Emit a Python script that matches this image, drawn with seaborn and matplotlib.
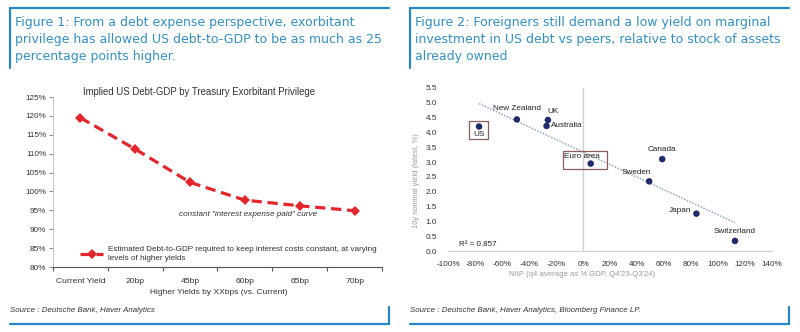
import matplotlib
matplotlib.use("Agg")
import matplotlib.pyplot as plt
import seaborn as sns
import numpy as np
import pandas as pd
from matplotlib.lines import Line2D
from matplotlib.patches import Rectangle
from matplotlib.ticker import PercentFormatter, FixedLocator, MultipleLocator, FormatStrFormatter

# ---------------- data ----------------
scenarios = ["Current Yield", "20bp", "45bp", "60bp", "65bp", "70bp"]
debt_to_gdp = [119.5, 111.2, 102.4, 97.7, 96.2, 94.9]

countries = ["US", "New Zealand", "UK", "Australia", "Euro area",
             "Canada", "Sweden", "Japan", "Switzerland"]
niip = [-77, -49, -26, -27, 5.7, 58.7, 49, 84, 112.6]
yield_10y = [4.20, 4.44, 4.42, 4.22, 2.95, 3.10, 2.35, 1.26, 0.34]
r2_text = "R² = 0.857"

title1 = ("Figure 1: From a debt expense perspective, exorbitant\n"
          "privilege has allowed US debt-to-GDP to be as much as 25\n"
          "percentage points higher.")
title2 = ("Figure 2: Foreigners still demand a low yield on marginal\n"
          "investment in US debt vs peers, relative to stock of assets\n"
          "already owned")
source1 = "Source : Deutsche Bank, Haver Analytics"
source2 = "Source : Deutsche Bank, Haver Analytics, Bloomberg Finance LP."

# ---------------- style ----------------
sns.set_theme(style="white")
plt.rcParams["font.family"] = ["Liberation Sans", "DejaVu Sans"]
plt.rcParams["axes.unicode_minus"] = False

W, H = 800, 332
fig = plt.figure(figsize=(W / 100, H / 100), dpi=100)
fig.patch.set_facecolor("white")

def fx(px):
    return px / W

def fy(py):
    return 1 - py / H

blue = "#2489c4"
title_col = "#3390c3"
red = "#e3262b"
navy = "#1f2a6b"
txt = "#333333"
grey = "#9a9a9a"
TITLE_FONT = ["DejaVu Sans"]
FS = 5.9

# frames
def frame(x0, x1):
    kw = dict(color=blue, lw=1.6, transform=fig.transFigure)
    fig.add_artist(Line2D([fx(x0), fx(x1)], [fy(8), fy(8)], **kw))
    fig.add_artist(Line2D([fx(x0), fx(x0)], [fy(8), fy(68)], **kw))
    fig.add_artist(Line2D([fx(x0), fx(x1)], [fy(324), fy(324)], **kw))
    fig.add_artist(Line2D([fx(x1), fx(x1)], [fy(307), fy(324)], **kw))

frame(10, 389)
frame(410, 789)

fig.text(fx(15), fy(16), title1, color=title_col, fontsize=9.0, va="top",
         ha="left", linespacing=1.38, family=TITLE_FONT)
fig.text(fx(415), fy(16), title2, color=title_col, fontsize=9.0, va="top",
         ha="left", linespacing=1.38, family=TITLE_FONT)
fig.text(fx(10), fy(311), source1, color=txt, fontsize=5.7, style="italic",
         va="center", ha="left")
fig.text(fx(410), fy(311), source2, color=txt, fontsize=5.7, style="italic",
         va="center", ha="left")

# ---------------- left chart ----------------
axL = fig.add_axes([fx(53), fy(267), fx(382) - fx(53), fy(97) - fy(267)])
df1 = pd.DataFrame({"scenario": scenarios, "debt": debt_to_gdp})
sns.lineplot(data=df1, x="scenario", y="debt", ax=axL, color=red, lw=2.3,
             marker="D", markersize=5, markeredgewidth=0, sort=False,
             label="Estimated Debt-to-GDP required to keep interest costs constant, at varying\nlevels of higher yields")
for ln in axL.lines:
    ln.set_linestyle((0, (3.2, 1.8)))
axL.set_xlim(-0.5, len(scenarios) - 0.5)
axL.set_ylim(80, 125)
axL.yaxis.set_major_locator(MultipleLocator(5))
axL.yaxis.set_major_formatter(PercentFormatter(decimals=0))
axL.set_xticks(range(len(scenarios)))
axL.set_xticklabels(scenarios)
axL.xaxis.set_minor_locator(FixedLocator(np.arange(-0.5, len(scenarios), 1.0)))
axL.tick_params(axis="x", which="major", length=0, pad=8, labelsize=6.1, colors=txt)
axL.tick_params(axis="x", which="minor", length=3, width=0.8, color="#555555",
                direction="out", bottom=True)
axL.tick_params(axis="y", which="major", length=3, width=0.6, color="#777777",
                left=True, labelsize=FS, colors=txt, pad=2)
for s in ["top", "right"]:
    axL.spines[s].set_visible(False)
axL.spines["bottom"].set_color("#555555")
axL.spines["bottom"].set_linewidth(0.8)
axL.spines["left"].set_color("#bbbbbb")
axL.spines["left"].set_linewidth(0.6)
axL.set_xlabel("")
axL.set_ylabel("")
leg = axL.legend(loc="upper left", bbox_to_anchor=(0.06, 0.165), frameon=False,
                 fontsize=5.9, handlelength=2.8, handletextpad=0.6,
                 labelcolor=txt, labelspacing=0.2)
for t in leg.get_texts():
    t.set_linespacing(1.35)
fig.text(fx(199), fy(92), "Implied US Debt-GDP by Treasury Exorbitant Privilege",
         fontsize=6.9, color=txt, ha="center", va="center")
axL.text(0.593, 0.306, "constant \"interest expense paid\" curve", transform=axL.transAxes,
         fontsize=5.9, style="italic", color=txt, ha="center", va="center")
fig.text(fx(219), fy(293), "Higher Yields by XXbps (vs. Current)", fontsize=6.0,
         color=txt, ha="center", va="center")

# ---------------- right chart ----------------
axR = fig.add_axes([fx(448), fy(251), fx(772) - fx(448), fy(88) - fy(251)])
df2 = pd.DataFrame({"country": countries, "niip": niip, "yield": yield_10y})
axR.axvline(0, color="#cfcfcf", lw=1.0, zorder=0)
sns.regplot(data=df2, x="niip", y="yield", ax=axR, scatter=False, ci=None,
            line_kws=dict(color="#8fa6bf", lw=1.1, ls=(0, (1, 1))))
sns.scatterplot(data=df2, x="niip", y="yield", ax=axR, color=navy, s=22,
                edgecolor="none", zorder=3)
axR.set_xlim(-100, 140)
axR.set_ylim(0, 5.5)
axR.set_xticks(np.arange(-100, 141, 20))
axR.xaxis.set_major_formatter(PercentFormatter(decimals=0))
axR.set_yticks(np.arange(0, 5.51, 0.5))
axR.yaxis.set_major_formatter(FormatStrFormatter("%.1f"))
axR.tick_params(axis="both", length=0, labelsize=FS, colors=txt)
axR.tick_params(axis="x", pad=7)
axR.tick_params(axis="y", pad=8)
for s in ["top", "right", "left"]:
    axR.spines[s].set_visible(False)
axR.spines["bottom"].set_color("#d0d0d0")
axR.spines["bottom"].set_linewidth(0.8)
axR.set_xlabel("")
axR.set_ylabel("")

# label offsets (points) per country
offsets = {
    "US": (0, -5.5, "center"),
    "New Zealand": (0, 7.7, "center"),
    "UK": (3.6, 6, "center"),
    "Australia": (3, 0, "left"),
    "Euro area": (-6, 4.8, "center"),
    "Canada": (0, 7, "center"),
    "Sweden": (1.5, 6.2, "right"),
    "Japan": (-3.5, 2.5, "right"),
    "Switzerland": (0, 7, "center"),
}
for c, xv, yv in zip(countries, niip, yield_10y):
    dx, dy, ha = offsets[c]
    axR.annotate(c, (xv, yv), xytext=(dx, dy), textcoords="offset points",
                 fontsize=5.9, color="#222222", ha=ha, va="center")

# boxes around US and Euro area (positioned relative to their points)
def box(xv, yv, left, right, top, bottom):
    axR.add_patch(Rectangle((xv - left, yv - bottom), left + right, top + bottom,
                            fill=False, ec="#8c5b5b", lw=0.9, zorder=4))

i_us = countries.index("US")
box(niip[i_us], yield_10y[i_us], 7.4, 6.6, 0.19, 0.42)
i_ea = countries.index("Euro area")
box(niip[i_ea], yield_10y[i_ea], 20.5, 12.1, 0.43, 0.18)

axR.text(-92, 0.23, r2_text, fontsize=5.8, color="#222222", ha="left", va="center")
fig.text(fx(416), fy(181), "10y nominal yield (latest, %)", rotation=90,
         fontsize=5.4, color=grey, ha="center", va="center")
fig.text(fx(582), fy(274), "NIIP (q4 average as % GDP, Q4'23-Q3'24)", fontsize=5.6,
         color=grey, ha="center", va="center")

fig.savefig("out.png", dpi=100, facecolor="white")
